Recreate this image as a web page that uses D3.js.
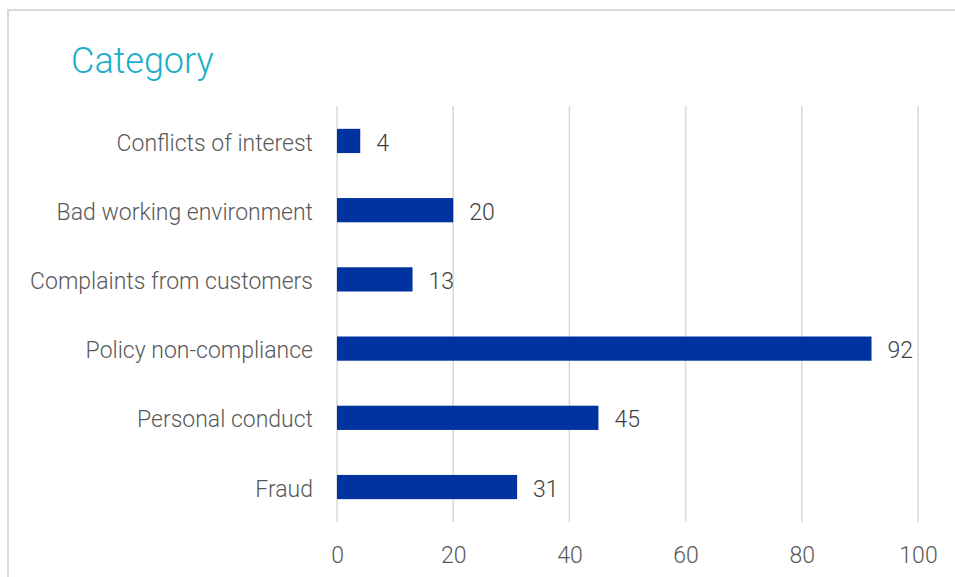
<!DOCTYPE html>
<html>
<head>
<meta charset="utf-8">
<script src="https://cdn.jsdelivr.net/npm/d3@7"></script>
<style>
  body { margin: 0; background: #fff; }
  svg text { font-family: Roboto, "Noto Sans", sans-serif; font-weight: 300; }
</style>
</head>
<body>
<svg id="chart" width="955" height="577"></svg>
<script>
const categories = ["Conflicts of interest", "Bad working environment", "Complaints from customers",
  "Policy non-compliance", "Personal conduct", "Fraud"];
const counts = [4, 20, 13, 92, 45, 31];
const xTicks = [0, 20, 40, 60, 80, 100];

const data = categories.map((c, i) => ({ category: c, count: counts[i] }));

const svg = d3.select("#chart");
const margin = { top: 106, right: 37, bottom: 55, left: 337 };

// frame
svg.append("rect")
  .attr("x", 8).attr("y", 10)
  .attr("width", 990).attr("height", 600)
  .attr("fill", "none")
  .attr("stroke", "#d9d9d9")
  .attr("stroke-width", 2);

svg.append("text")
  .attr("x", 71).attr("y", 73)
  .attr("fill", "#1aaec9")
  .style("font-size", "36px")
  .text("Category");

const g = svg.append("g").attr("transform", `translate(${margin.left},${margin.top})`);

const x = d3.scaleLinear().domain([0, 100]).range([0, 581]);
const y = d3.scaleBand().domain(categories).range([0, 416]).paddingInner(0.65).paddingOuter(0.33);

// grid
g.selectAll(".grid")
  .data(xTicks)
  .join("line")
  .attr("class", "grid")
  .attr("x1", (d) => x(d)).attr("x2", (d) => x(d))
  .attr("y1", 0).attr("y2", 416)
  .attr("stroke", "#d9d9d9")
  .attr("stroke-width", 1.5);

// x axis
const gx = g.append("g")
  .attr("transform", `translate(0,416)`)
  .call(d3.axisBottom(x).tickValues(xTicks).tickSize(0).tickPadding(25));
gx.select(".domain").remove();
gx.selectAll(".tick text")
  .attr("fill", "#595959")
  .style("font-size", "23px");

// y axis
const gy = g.append("g")
  .call(d3.axisLeft(y).tickSize(0).tickPadding(24));
gy.select(".domain").remove();
gy.selectAll(".tick text")
  .attr("fill", "#595959")
  .attr("dy", "0.42em")
  .style("font-size", "23px");

// bars
g.selectAll(".bar")
  .data(data)
  .join("rect")
  .attr("class", "bar")
  .attr("x", x(0))
  .attr("y", (d) => y(d.category))
  .attr("width", (d) => x(d.count) - x(0))
  .attr("height", y.bandwidth())
  .attr("fill", "#0033a0");

// value labels
g.selectAll(".val")
  .data(data)
  .join("text")
  .attr("class", "val")
  .attr("x", (d) => x(d.count) + 16)
  .attr("y", (d) => y(d.category) + y.bandwidth() / 2)
  .attr("dy", "0.42em")
  .attr("fill", "#404040")
  .style("font-size", "23px")
  .text((d) => d.count);
</script>
</body>
</html>
